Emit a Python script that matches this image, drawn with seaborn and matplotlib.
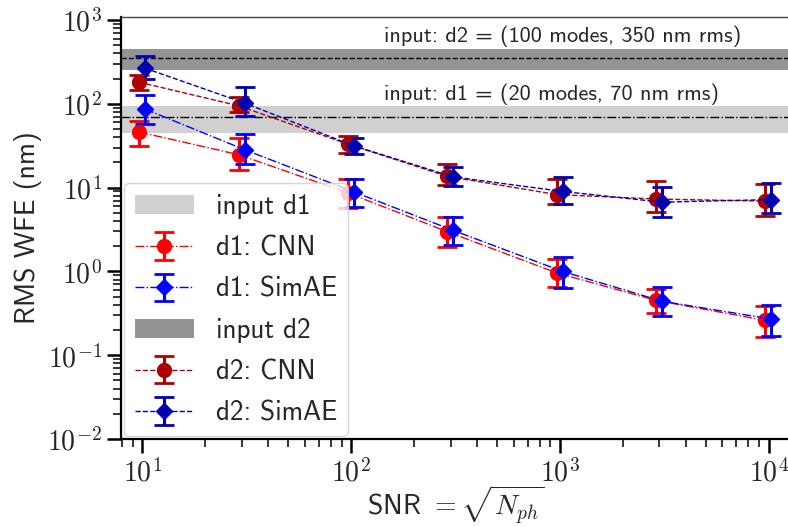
""" RMS WFE versus SNR for CNN and SimAE, two input distributions. """

import numpy as np
import pandas as pd
import seaborn as sns
import matplotlib
matplotlib.use("Agg")
import matplotlib.pyplot as plt
from matplotlib.ticker import FuncFormatter, LogLocator

# SNR values
snr = [10, 30, 100, 300, 1000, 3000, 10000]

# d1 (20 modes, 70 nm rms)
d1_cnn = [46, 24.7, 8.65, 2.97, 0.96, 0.45, 0.26]
d1_cnn_lo = [31, 16.4, 5.7, 1.97, 0.65, 0.32, 0.167]
d1_cnn_hi = [63, 39, 12.8, 4.5, 1.42, 0.61, 0.39]

d1_simae = [86.5, 28.3, 8.9, 3.08, 1.0, 0.44, 0.27]
d1_simae_lo = [57.8, 19.3, 5.8, 2.04, 0.63, 0.29, 0.17]
d1_simae_hi = [128, 44, 12.8, 4.4, 1.5, 0.65, 0.40]

# d2 (100 modes, 350 nm rms)
d2_cnn = [181, 94.6, 33, 13.6, 8.26, 7.3, 6.9]
d2_cnn_lo = [147, 79, 25.9, 10.6, 6.3, 5.1, 4.6]
d2_cnn_hi = [221, 122, 40.8, 19.3, 12.7, 11.9, 11.1]

d2_simae = [266, 102, 31.5, 13.4, 9.0, 6.7, 7.2]
d2_simae_lo = [198, 72, 25.4, 10.4, 6.45, 4.5, 5.0]
d2_simae_hi = [373, 158, 38.9, 17.5, 13.4, 10.2, 11.2]

# input bands (rms, low, high)
input_d1 = [70, 45, 95]
input_d2 = [350, 250, 450]


def main() -> None:
    """ Main function. """

    sns.set_style("ticks")
    plt.rcParams["font.family"] = ["cmss10", "DejaVu Sans"]
    plt.rcParams["mathtext.fontset"] = "cm"
    plt.rcParams["axes.unicode_minus"] = False

    fig = plt.figure(figsize=(7.88, 5.27), dpi=100)
    ax = fig.add_axes([121 / 788, 88 / 527, 670 / 788, 422 / 527])

    # input bands
    ax.axhspan(input_d1[1], input_d1[2], color="#d0d0d0", lw=0, label="input d1", zorder=0)
    ax.axhline(input_d1[0], color="k", ls="-.", lw=1, zorder=1)
    ax.axhspan(input_d2[1], input_d2[2], color="#949494", lw=0, label="input d2", zorder=0)
    ax.axhline(input_d2[0], color="k", ls="--", lw=1, zorder=1)

    series = [
        ("d1: CNN", d1_cnn, d1_cnn_lo, d1_cnn_hi, "#ff0000", "o", 10, "-.", 0.965),
        ("d1: SimAE", d1_simae, d1_simae_lo, d1_simae_hi, "#0000ff", "D", 8, "-.", 1.03),
        ("d2: CNN", d2_cnn, d2_cnn_lo, d2_cnn_hi, "#b00000", "o", 10, "--", 0.965),
        ("d2: SimAE", d2_simae, d2_simae_lo, d2_simae_hi, "#0000b0", "D", 8, "--", 1.03),
    ]
    for label, y, lo, hi, color, marker, ms, ls, shift in series:
        y = np.array(y)
        yerr = [y - np.array(lo), np.array(hi) - y]
        ax.errorbar(np.array(snr) * shift, y, yerr=yerr, color=color, marker=marker,
                    ls=ls, lw=1, markersize=ms, elinewidth=2.2, capsize=7,
                    capthick=2, label=label, zorder=3)

    ax.set_xscale("log")
    ax.set_yscale("log")
    ax.set_xlim(7.9, 12800)
    ax.set_ylim(1e-2, 1086)

    fmt = FuncFormatter(lambda v, p: r"$10^{%d}$" % round(np.log10(v)))
    ax.xaxis.set_major_formatter(fmt)
    ax.yaxis.set_major_formatter(fmt)
    ax.yaxis.set_major_locator(LogLocator(base=10, numticks=12))
    ax.tick_params(which="major", length=10, width=1.8, labelsize=20, color="k")
    ax.tick_params(which="minor", length=6, width=1.1, color="k")

    for side in ["left", "bottom"]:
        ax.spines[side].set_linewidth(1.6)
        ax.spines[side].set_color("k")
    ax.spines["top"].set_linewidth(1)
    ax.spines["top"].set_color("#444444")

    ax.text(144, 637, "input: d2 = (100 modes, 350 nm rms)", fontsize=16, va="center")
    ax.text(144, 131, "input: d1 = (20 modes, 70 nm rms)", fontsize=16, va="center")

    ax.set_xlabel(r"SNR $= \sqrt{N_{ph}}$", fontsize=20, labelpad=-2)
    ax.set_ylabel("RMS WFE (nm)", fontsize=20)

    order = ["input d1", "d1: CNN", "d1: SimAE", "input d2", "d2: CNN", "d2: SimAE"]
    hl, ll = ax.get_legend_handles_labels()
    lookup = dict(zip(ll, hl))
    ax.legend([lookup[k] for k in order], order, loc="lower left", fontsize=19.5,
              handlelength=2.2, labelspacing=0.6, borderaxespad=0.1)

    fig.savefig("out.png", dpi=100)


if __name__ == "__main__":
    main()
